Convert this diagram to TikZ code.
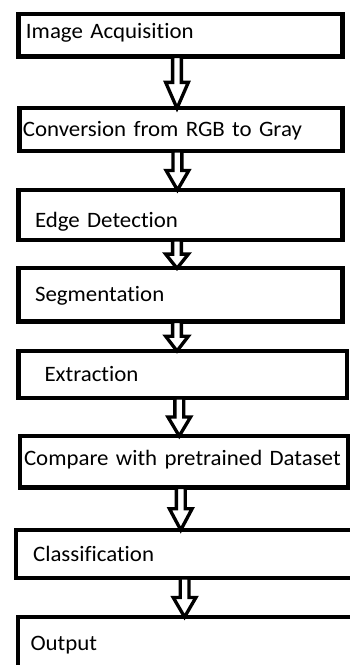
\documentclass[tikz,border=0pt]{standalone}
\usepackage{fontspec}
\setmainfont{Carlito}[FakeStretch=1.04, Ligatures=NoCommon]
\usetikzlibrary{calc}
\begin{document}
\begin{tikzpicture}[x=0.75pt, y=-0.75pt,
    main/.style = {draw, line width=3.2pt, anchor=north west, outer sep=0pt, inner ysep=0pt, align=left,
      text height=10.5pt, text depth=0pt, font=\fontsize{16.5pt}{19pt}\selectfont},
    flow/.style = {draw, line width=2.5pt, fill=white,
      to path={let \p1=($(\tikztostart.south)+(-3.5,0)$), \p2=(\tikztotarget.north), \p3=($(\p1)!.5!(\x1,\y2)$) in
        (\x1-3.3pt,\y1) -- (\x1-3.3pt,\y3) -- (\x1-8.5pt,\y3) -- (\x1,\y2) -- (\x1+8.5pt,\y3) -- (\x1+3.3pt,\y3) -- (\x1+3.3pt,\y1) -- cycle}}]
  \useasboundingbox (0,0) rectangle (350,665);
  \clip (0,0) rectangle (350,665);

  \node[main, inner xsep=5.6pt, text width=231.8pt, minimum height=32pt, text depth=4.8pt](1) at (18.5,13.8){Image Acquisition};
  \node[main, inner xsep=2.6pt, text width=237pt, minimum height=32pt](2) at (19.5,108.3){Conversion from RGB to Gray};
  \node[main, inner xsep=12.4pt, text width=218.2pt, minimum height=37.5pt, text height=18pt](3) at (18.5,190){Edge Detection};
  \node[main, inner xsep=12.4pt, text width=218.2pt, minimum height=39.9pt](4) at (18.5,268.3){Segmentation};
  \node[main, inner xsep=19.5pt, text width=207.4pt, minimum height=35.2pt](5) at (18.5,351){Extraction};
  \node[main, inner xsep=3pt, text width=240.4pt, minimum height=38.6pt, text depth=4.5pt](6) at (20,436){\mbox{Compare with pretrained Dataset}};
  \node[main, inner xsep=12.8pt, text width=232.5pt, minimum height=36pt](7) at (16,530){Classification};
  \node[main, inner xsep=9.4pt, text width=237.7pt, minimum height=39.8pt](8) at (18,617){Output};

  \draw[flow] (1) to (2); \draw[flow] (2) to (3); \draw[flow] (3) to (4);
  \draw[flow] (4) to (5); \draw[flow] (5) to (6); \draw[flow] (6) to (7); \draw[flow] (7) to (8);
\end{tikzpicture}
\end{document}
